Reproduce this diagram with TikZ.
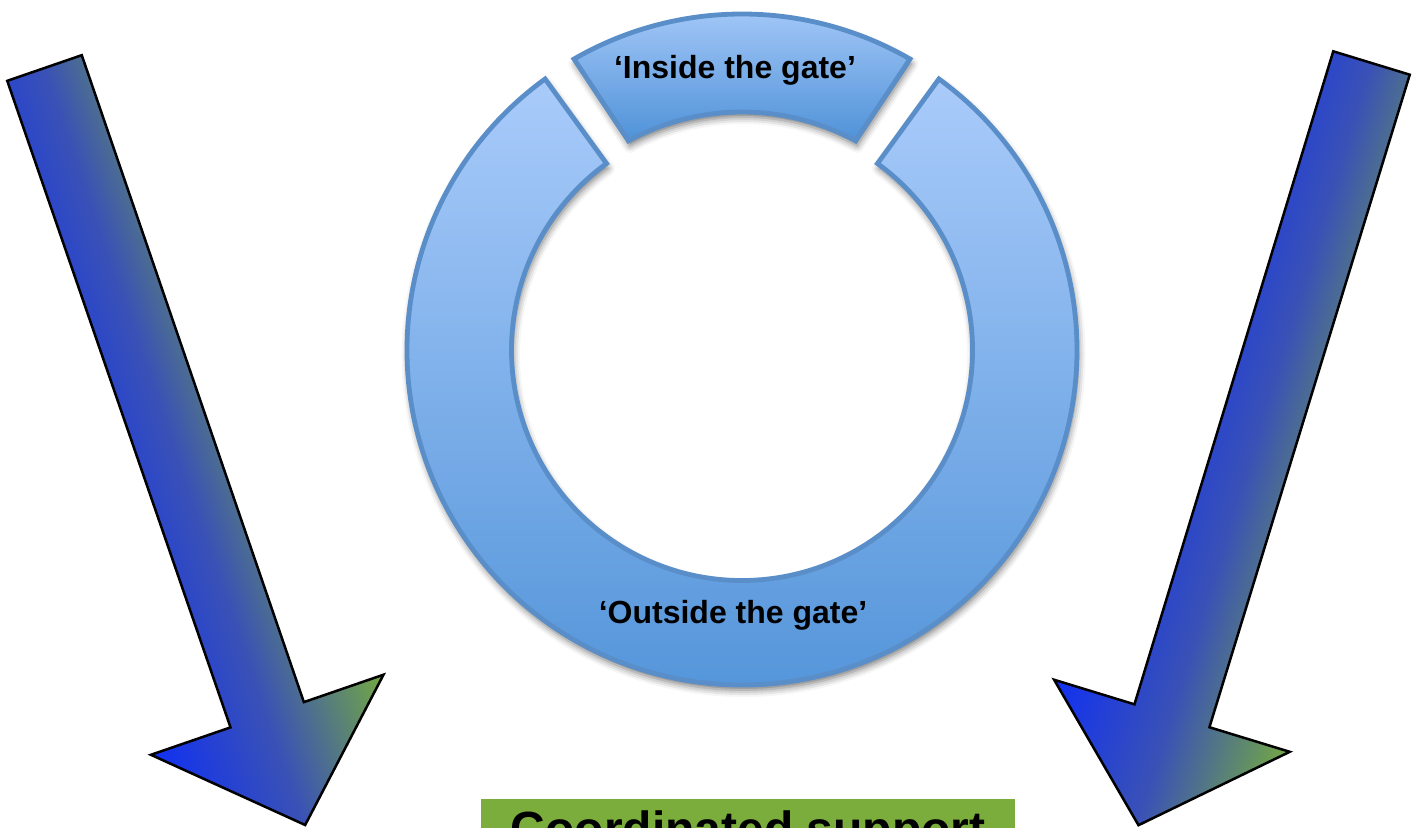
\documentclass[tikz,border=0pt]{standalone}
\usepackage{fontspec}
\setmainfont{Liberation Sans}
\usetikzlibrary{shadows.blur}
\definecolor{ringtop}{HTML}{A9CBFA}
\definecolor{ringbot}{HTML}{4F92D8}
\definecolor{ringedge}{HTML}{5A8EC8}
\definecolor{arrblue}{HTML}{1030F2}
\definecolor{arrmid}{HTML}{3A52B5}
\definecolor{arrgreen}{HTML}{74A942}
\definecolor{boxgreen}{HTML}{7AAD3C}
\tikzset{
  bigarrow/.style={draw=black, line width=2.5pt, line join=miter,
    left color=arrblue, right color=arrgreen, middle color=arrmid},
  ringpart/.style={draw=ringedge, line width=4.8pt, line join=miter,
    top color=ringtop, bottom color=ringbot,
    blur shadow={shadow xshift=1.5pt, shadow yshift=-5pt,
      shadow blur radius=7pt, shadow opacity=55}},
  gatetext/.style={font=\fontsize{32}{38}\selectfont\bfseries, text=black, inner sep=0pt},
  boxtext/.style={font=\fontsize{48}{56}\selectfont\bfseries, text=black, inner sep=0pt}
}
\begin{document}
\begin{tikzpicture}[x=1pt, y=-1pt]
\useasboundingbox (0,0) rectangle (1418,827);
\clip (0,0) rectangle (1418,827);

% left arrow, drawn along its own axis (u across, v down the shaft)
\begin{scope}[transform canvas={shift={(44.5,68)}, rotate=19}]
  \shade[bigarrow] (-39.4,0) -- (39.4,0) -- (38.8,684) -- (123,684)
    -- (0,800.6) -- (-123,684) -- (-38.8,684) -- cycle;
\end{scope}

% right arrow
\begin{scope}[transform canvas={shift={(1371.5,63)}, rotate=-17}]
  \shade[bigarrow] (-40,0) -- (40,0) -- (39.2,682.6) -- (123.2,682.6)
    -- (0,797) -- (-123.2,682.6) -- (-39.2,682.6) -- cycle;
\end{scope}

% ring with the top segment lifted out
\begin{scope}[shift={(742,350)}]
  \shade[ringpart] (-126:335) arc[start angle=-126, end angle=-414, radius=335]
    -- (-414:230.5) arc[start angle=-414, end angle=-126, radius=230.5] -- cycle;
  \shade[ringpart] (-120:336) arc[start angle=-120, end angle=-60, radius=336]
    -- (-61.5:238) arc[start angle=-61.5, end angle=-118.5, radius=238] -- cycle;
\end{scope}

\node[gatetext, anchor=base] (inside) at (735,78) {‘Inside the gate’};
\node[gatetext, anchor=base] (outside) at (733,623) {‘Outside the gate’};

% coordinated support box at the foot
\node[fill=boxgreen, anchor=north west, minimum width=534pt, minimum height=100pt,
  inner sep=0pt] (csbox) at (481,799) {};
\node[boxtext, anchor=base] (cs) at (748,845) {Coordinated support};
\end{tikzpicture}
\end{document}
